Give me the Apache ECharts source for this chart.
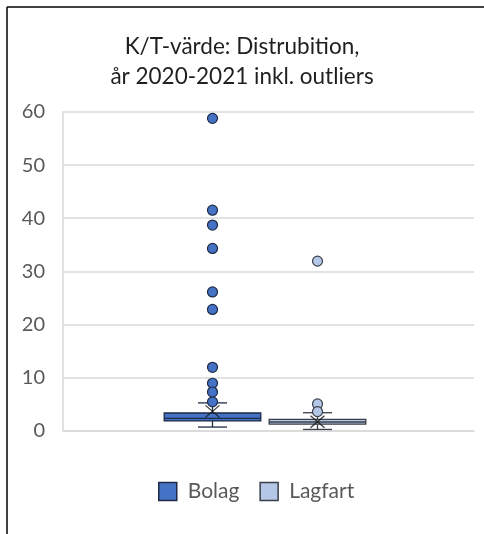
<!DOCTYPE html>
<html>
<head>
<meta charset="utf-8">
<script src="https://cdn.jsdelivr.net/npm/echarts@6/dist/echarts.min.js"></script>
<style>
  html, body { margin: 0; padding: 0; background: #fff; }
  #chart { width: 484px; height: 534px; }
</style>
</head>
<body>
<div id="chart"></div>
<script>
// Box statistics per group: [min, Q1, median, Q3, max]
const groups = ['Bolag', 'Lagfart'];
const bolagBox = [0.65, 1.8, 2.3, 3.3, 5.2];
const lagfartBox = [0.2, 1.2, 1.6, 2.1, 3.35];
const bolagOutliers = [58.8, 41.5, 38.7, 34.3, 26.1, 22.8, 11.9, 8.9, 7.25, 5.4];
const lagfartOutliers = [31.9, 5.0, 3.55];
const means = [3.6, 1.65];
const yTicks = [0, 10, 20, 30, 40, 50, 60];

const fills = ['#4472C4', '#B4C7E7'];
const strokes = ['#1E2B45', '#3A3F48'];
const font = 'Lato, "Open Sans", sans-serif';

const chart = echarts.init(document.getElementById('chart'), null, { renderer: 'canvas' });

const boxes = [bolagBox, lagfartBox];

function boxSeries(i) {
  return {
    name: groups[i],
    type: 'custom',
    xAxisIndex: 1,
    yAxisIndex: 1,
    z: 3,
    encode: { x: 0, y: [1, 2, 3, 4, 5] },
    data: [[i].concat(boxes[i])],
    renderItem: function (params, api) {
      const cat = api.value(0);
      const band = api.size([1, 0])[0];
      const half = band * 0.46;
      const cap = 14.5;
      const pMin = api.coord([cat, api.value(1)]);
      const pQ1 = api.coord([cat, api.value(2)]);
      const pMed = api.coord([cat, api.value(3)]);
      const pQ3 = api.coord([cat, api.value(4)]);
      const pMax = api.coord([cat, api.value(5)]);
      const x = pQ1[0];
      const line = { stroke: strokes[i], lineWidth: 1.3 };
      return {
        type: 'group',
        children: [
          { type: 'line', shape: { x1: x, y1: pQ1[1], x2: x, y2: pMin[1] }, style: line },
          { type: 'line', shape: { x1: x - cap, y1: pMin[1], x2: x + cap, y2: pMin[1] }, style: line },
          { type: 'line', shape: { x1: x, y1: pQ3[1], x2: x, y2: pMax[1] }, style: line },
          { type: 'line', shape: { x1: x - cap, y1: pMax[1], x2: x + cap, y2: pMax[1] }, style: line },
          {
            type: 'rect',
            shape: { x: x - half, y: pQ3[1], width: half * 2, height: pQ1[1] - pQ3[1] },
            style: { fill: fills[i], stroke: strokes[i], lineWidth: 1.3 }
          },
          { type: 'line', shape: { x1: x - half, y1: pMed[1], x2: x + half, y2: pMed[1] }, style: line }
        ]
      };
    }
  };
}

function outlierSeries(i, values) {
  return {
    name: groups[i],
    type: 'scatter',
    xAxisIndex: 1,
    yAxisIndex: 1,
    z: 5,
    symbol: 'circle',
    symbolSize: 10,
    itemStyle: { color: fills[i], borderColor: strokes[i], borderWidth: 1.2, opacity: 1 },
    data: values.map(v => [i, v])
  };
}

const meanSeries = {
  name: 'Medel',
  type: 'scatter',
  xAxisIndex: 1,
  yAxisIndex: 1,
  z: 6,
  symbol: 'path://M0,0L10,10M10,0L0,10',
  symbolSize: [14, 12],
  itemStyle: { color: 'none', borderColor: '#111', borderWidth: 1.2 },
  data: means.map((v, i) => [i, v])
};

const yAxisBase = {
  type: 'value',
  min: yTicks[0],
  max: yTicks[yTicks.length - 1],
  interval: yTicks[1] - yTicks[0]
};

chart.setOption({
  animation: false,
  backgroundColor: '#ffffff',
  title: {
    text: 'K/T-värde: Distrubition,\når 2020-2021 inkl. outliers',
    left: 'center',
    top: 27,
    textStyle: { fontFamily: font, fontSize: 22.5, fontWeight: 'normal', color: '#1f1f1f', lineHeight: 30 }
  },
  legend: {
    left: 153,
    top: 476,
    itemWidth: 18,
    itemHeight: 18,
    itemGap: 20,
    icon: 'rect',
    selectedMode: false,
    textStyle: { fontFamily: font, fontSize: 21, color: '#595959', padding: [0, 0, 0, 6] },
    data: [
      { name: 'Bolag', itemStyle: { color: fills[0], borderColor: strokes[0], borderWidth: 1.5 } },
      { name: 'Lagfart', itemStyle: { color: fills[1], borderColor: strokes[1], borderWidth: 1.5 } }
    ]
  },
  grid: [
    { left: 63, right: 10, top: 112, bottom: 103.5 },
    { left: 160, width: 210, top: 112, bottom: 103.5 }
  ],
  xAxis: [
    {
      gridIndex: 0,
      type: 'category',
      data: [''],
      axisLine: { show: true, lineStyle: { color: '#D9D9D9', width: 1.5 } },
      axisTick: { show: false },
      axisLabel: { show: false }
    },
    {
      gridIndex: 1,
      type: 'category',
      data: groups,
      axisLine: { show: false },
      axisTick: { show: false },
      axisLabel: { show: false }
    }
  ],
  yAxis: [
    Object.assign({}, yAxisBase, {
      gridIndex: 0,
      axisLine: { show: true, lineStyle: { color: '#D9D9D9', width: 1.5 } },
      axisTick: { show: false },
      axisLabel: { fontFamily: font, fontSize: 20, color: '#595959', margin: 18 },
      splitLine: { show: true, lineStyle: { color: '#D9D9D9', width: 1.5 } }
    }),
    Object.assign({}, yAxisBase, {
      gridIndex: 1,
      show: false,
      splitLine: { show: false }
    })
  ],
  graphic: [
    { type: 'line', shape: { x1: 7, y1: 7, x2: 484, y2: 7 }, style: { stroke: '#000', lineWidth: 1.5 } },
    { type: 'line', shape: { x1: 7, y1: 7, x2: 7, y2: 534 }, style: { stroke: '#000', lineWidth: 1.5 } }
  ],
  series: [
    boxSeries(0),
    boxSeries(1),
    outlierSeries(0, bolagOutliers),
    outlierSeries(1, lagfartOutliers),
    meanSeries
  ]
});
</script>
</body>
</html>
